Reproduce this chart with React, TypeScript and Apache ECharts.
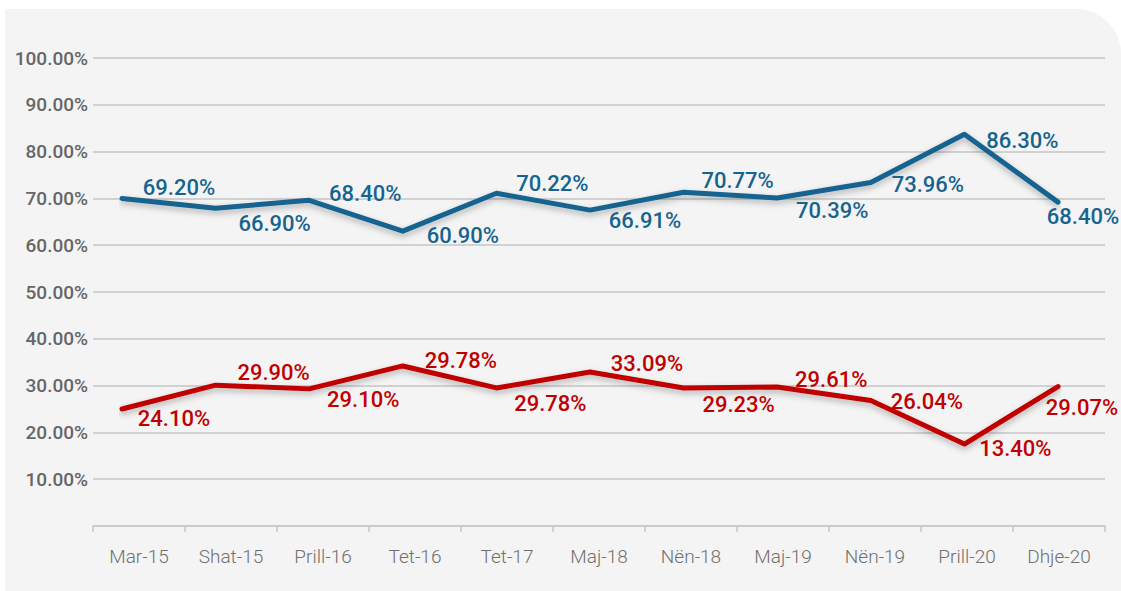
import React, { useEffect, useRef } from "react";
import * as echarts from "echarts";

const categories = ["Mar-15", "Shat-15", "Prill-16", "Tet-16", "Tet-17", "Maj-18", "Nën-18", "Maj-19", "Nën-19", "Prill-20", "Dhje-20"];
const blueValues = [70.0, 67.9, 69.6, 63.0, 71.1, 67.5, 71.3, 70.1, 73.4, 83.7, 69.2];
const redValues = [25.0, 30.1, 29.3, 34.2, 29.5, 32.9, 29.5, 29.7, 26.8, 17.5, 29.8];
const blueLabels = [69.2, 66.9, 68.4, 60.9, 70.22, 66.91, 70.77, 70.39, 73.96, 86.3, 68.4];
const redLabels = [24.1, 29.9, 29.1, 29.78, 29.78, 33.09, 29.23, 29.61, 26.04, 13.4, 29.07];

// label placement (layout only)
const blueOffsets = [[57, -11], [59, 15], [56, -7], [60, 4], [56, -10], [55, 10], [54, -12], [55, 13], [57, 2], [58, 6], [25, 14]];
const redOffsets = [[52, 9], [58, -13], [54, 11], [58, -5], [54, 16], [57, -9], [55, 17], [54, -8], [56, 1], [51, 4], [24, 21]];

const BLUE = "#17638f";
const RED = "#c00000";
const FONT = "Roboto";

function makeSeries(name: string, values: number[], labels: number[], offsets: number[][], color: string) {
  return {
    name,
    type: "line",
    xAxisIndex: 1,
    yAxisIndex: 1,
    symbol: "circle",
    symbolSize: 2,
    showSymbol: true,
    itemStyle: { color },
    lineStyle: {
      color,
      width: 5,
      cap: "round",
      join: "round",
      shadowColor: "rgba(0,0,0,0.28)",
      shadowBlur: 6,
      shadowOffsetY: 3,
    },
    emphasis: { disabled: true },
    data: values.map((v, i) => ({
      value: v,
      label: {
        show: true,
        position: "inside",
        offset: offsets[i],
        formatter: labels[i].toFixed(2) + "%",
        color,
        fontFamily: FONT,
        fontSize: 22,
        fontWeight: 500,
      },
    })),
  };
}

export default function App() {
  const ref = useRef<HTMLDivElement>(null);
  useEffect(() => {
    if (!ref.current) return;
    const chart = echarts.init(ref.current, undefined, { renderer: "svg" });
    chart.setOption({
      animation: false,
      backgroundColor: "#ffffff",
      graphic: [
        {
          type: "rect",
          z: -100,
          shape: { x: 5, y: 9, width: 1116, height: 600, r: [0, 45, 0, 0] },
          style: { fill: "#f4f4f4" },
        },
      ],
      grid: [
        { left: 93, right: 16, top: 58, bottom: 65 },
        { left: 122, right: 63, top: 58, bottom: 65 },
      ],
      xAxis: [
        {
          type: "category",
          gridIndex: 0,
          data: categories,
          boundaryGap: true,
          axisLine: { lineStyle: { color: "#c9c9c9", width: 1.5 } },
          axisTick: { show: true, length: 6, lineStyle: { color: "#c9c9c9", width: 1.5 } },
          axisLabel: { color: "#707070", fontFamily: FONT, fontSize: 19, fontWeight: 300, margin: 21 },
          splitLine: { show: false },
        },
        {
          type: "category",
          gridIndex: 1,
          data: categories,
          boundaryGap: false,
          show: false,
        },
      ],
      yAxis: [
        {
          type: "value",
          gridIndex: 0,
          min: 0,
          max: 100,
          interval: 10,
          axisLine: { show: false },
          axisTick: { show: false },
          axisLabel: {
            color: "#666666",
            fontFamily: FONT,
            fontSize: 19,
            fontWeight: 500,
            margin: 5,
            formatter: (v: number) => (v === 0 ? "" : v.toFixed(2) + "%"),
          },
          splitLine: { lineStyle: { color: "#c6c6c6", width: 1.5 } },
        },
        {
          type: "value",
          gridIndex: 1,
          min: 0,
          max: 100,
          show: false,
          splitLine: { show: false },
        },
      ],
      series: [
        makeSeries("blue", blueValues, blueLabels, blueOffsets, BLUE),
        makeSeries("red", redValues, redLabels, redOffsets, RED),
      ],
    });
    return () => chart.dispose();
  }, []);
  return (
    <div
      ref={ref}
      style={{ position: "fixed", left: 0, top: 0, width: 1121, height: 591 }}
    />
  );
}
